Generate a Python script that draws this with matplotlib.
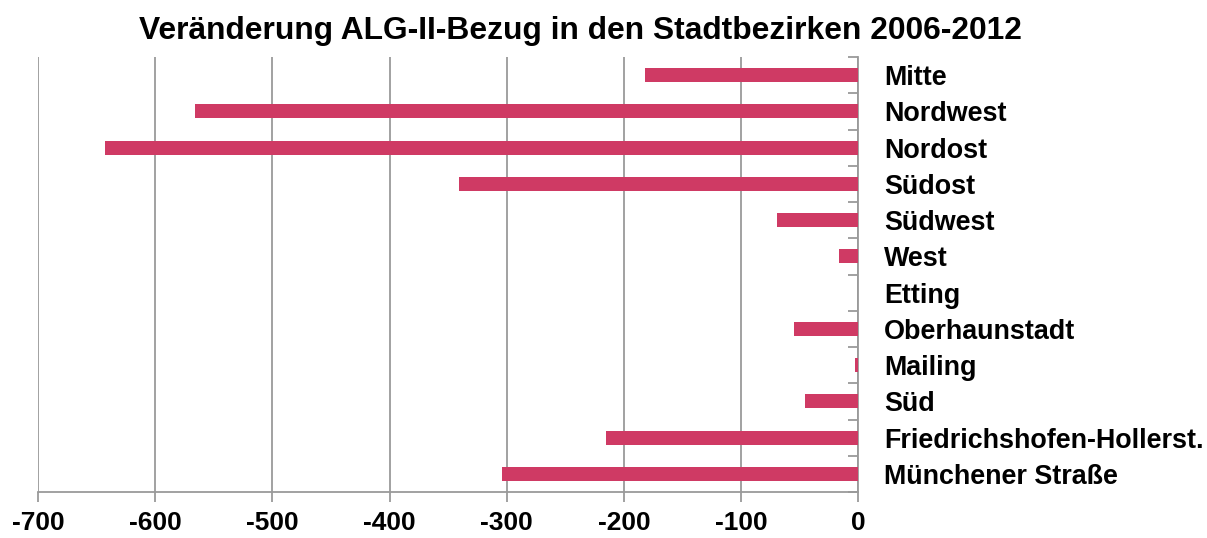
import matplotlib.pyplot as plt
import numpy as np

# %%
districts = ['Mitte', 'Nordwest', 'Nordost', 'Südost', 'Südwest', 'West',
             'Etting', 'Oberhaunstadt', 'Mailing', 'Süd',
             'Friedrichshofen-Hollerst.', 'Münchener Straße']
change = [-182, -566, -643, -341, -69, -16, 0, -55, -3, -45, -215, -304]
xticks = [-700, -600, -500, -400, -300, -200, -100, 0]

# %%
plt.rcParams['font.family'] = ['Liberation Sans', 'DejaVu Sans']
fig = plt.figure(figsize=(12.07, 5.38), dpi=100)
ax = fig.add_axes([0.0315, 0.0855, 0.6795, 0.8085])

y = np.arange(len(districts))
ax.barh(y, change, height=0.39, color='#cf3a64', zorder=3)

ax.set_xlim(-700, 0)
ax.set_ylim(len(districts) - 0.5, -0.5)
ax.set_xticks(xticks)
ax.set_xticklabels([str(v) for v in xticks], fontsize=19, fontweight='bold')
ax.grid(axis='x', color='#9a9a9a', linewidth=1.3, zorder=0)

ax.yaxis.tick_right()
ax.set_yticks(np.arange(len(districts) + 1) - 0.5, minor=True)
ax.set_yticks(y)
ax.set_yticklabels(districts, fontsize=19.4, fontweight='bold')
ax.tick_params(axis='y', which='major', length=0, pad=18.5)
ax.tick_params(axis='y', which='minor', direction='in', length=7,
               width=1.3, color='#9a9a9a')
ax.tick_params(axis='x', direction='out', length=7, width=1.3,
               color='#9a9a9a', pad=6.5)

for s in ['left', 'top']:
    ax.spines[s].set_visible(False)
for s in ['right', 'bottom']:
    ax.spines[s].set_color('#9a9a9a')
    ax.spines[s].set_linewidth(1.3)

fig.suptitle('Veränderung ALG-II-Bezug in den Stadtbezirken 2006-2012',
             x=0.481, y=0.942, va='center', fontsize=22.9, fontweight='bold')

fig.savefig('out.png', dpi=100)
